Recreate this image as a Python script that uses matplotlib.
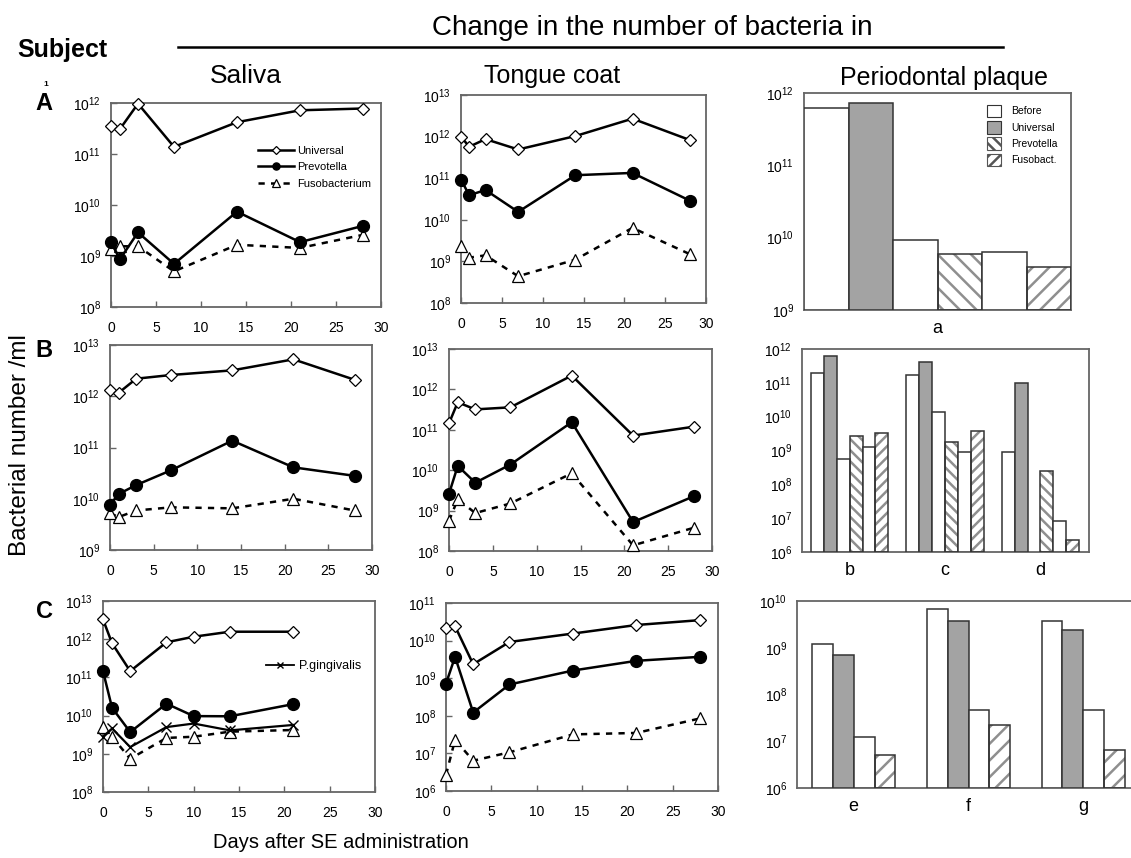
import matplotlib
matplotlib.use('Agg')
import matplotlib.pyplot as plt
import numpy as np
from matplotlib.patches import Patch
from matplotlib.lines import Line2D
from matplotlib.ticker import FixedLocator, NullLocator

plt.rcParams['font.family'] = ['Liberation Sans', 'DejaVu Sans']
plt.rcParams['mathtext.fontset'] = 'custom'
plt.rcParams['mathtext.rm'] = 'Liberation Sans'
plt.rcParams['mathtext.it'] = 'Liberation Sans'
plt.rcParams['hatch.linewidth'] = 1.8

# ---------------- data ----------------
days_A = [0, 1, 3, 7, 14, 21, 28]
A_sal_univ = [3.55e11, 3.1e11, 9.7e11, 1.38e11, 4.2e11, 7.2e11, 7.8e11]
A_sal_prev = [1.85e9, 8.7e8, 2.9e9, 7.0e8, 7.4e9, 1.87e9, 3.9e9]
A_sal_fuso = [1.35e9, 1.55e9, 1.55e9, 5.0e8, 1.66e9, 1.44e9, 2.6e9]
A_ton_univ = [1.0e12, 5.7e11, 8.7e11, 4.9e11, 1.03e12, 2.7e12, 8.3e11]
A_ton_prev = [9.3e10, 3.9e10, 5.2e10, 1.55e10, 1.18e11, 1.34e11, 2.9e10]
A_ton_fuso = [2.3e9, 1.23e9, 1.4e9, 4.4e8, 1.1e9, 6.4e9, 1.5e9]

days_B = [0, 1, 3, 7, 14, 21, 28]
B_sal_univ = [1.32e12, 1.17e12, 2.2e12, 2.6e12, 3.2e12, 5.25e12, 2.1e12]
B_sal_prev = [7.6e9, 1.24e10, 1.85e10, 3.6e10, 1.36e11, 4.1e10, 2.8e10]
B_sal_fuso = [5.2e9, 4.4e9, 5.9e9, 6.8e9, 6.5e9, 1.0e10, 5.9e9]
B_ton_univ = [1.45e11, 4.8e11, 3.2e11, 3.6e11, 2.2e12, 7.2e10, 1.2e11]
B_ton_prev = [2.6e9, 1.28e10, 4.9e9, 1.38e10, 1.54e11, 5.2e8, 2.3e9]
B_ton_fuso = [5.6e8, 1.9e9, 8.7e8, 1.5e9, 8.4e9, 1.38e8, 3.8e8]

days_Csal = [0, 1, 3, 7, 10, 14, 21]
C_sal_univ = [3.3e12, 7.8e11, 1.46e11, 8.3e11, 1.16e12, 1.57e12, 1.57e12]
C_sal_prev = [1.46e11, 1.6e10, 3.7e9, 2.05e10, 9.7e9, 9.6e9, 2.0e10]
C_sal_fuso = [4.9e9, 2.8e9, 7.4e8, 2.6e9, 2.8e9, 3.8e9, 4.2e9]
C_sal_pg = [2.8e9, 4.6e9, 1.5e9, 5.0e9, 6.2e9, 4.1e9, 5.7e9]
days_Cton = [0, 1, 3, 7, 14, 21, 28]
C_ton_univ = [2.1e10, 2.4e10, 2.35e9, 9.2e9, 1.54e10, 2.6e10, 3.5e10]
C_ton_prev = [7.2e8, 3.7e9, 1.22e8, 6.8e8, 1.6e9, 2.9e9, 3.7e9]
C_ton_fuso = [2.7e6, 2.3e7, 6.4e6, 1.07e7, 3.2e7, 3.5e7, 8.5e7]

x_ticks = [0, 5, 10, 15, 20, 25, 30]

# plaque bars
plaque_types_6 = ['before', 'univ', 'before', 'prev', 'before', 'fuso']
plaque_types_4 = ['before', 'univ', 'before', 'fuso']
a_vals = [6.3e11, 7.3e11, 9.2e9, 5.9e9, 6.4e9, 3.9e9]
b_vals = [1.9e11, 6.3e11, 5.7e8, 2.6e9, 1.3e9, 3.2e9]
c_vals = [1.7e11, 4.0e11, 1.4e10, 1.8e9, 8.8e8, 3.7e9]
d_vals = [8.8e8, 1.0e11, np.nan, 2.4e8, 8.5e6, 2.3e6]
e_vals = [1.2e9, 6.9e8, 1.24e7, 5.0e6]
f_vals = [6.6e9, 3.7e9, 4.6e7, 2.2e7]
g_vals = [3.7e9, 2.45e9, 4.6e7, 6.6e6]
legend_labels = ['Before', 'Universal', 'Prevotella', 'Fusobact.']

# ---------------- figure ----------------
W, H = 1131, 858
fig = plt.figure(figsize=(W / 100, H / 100), dpi=100)


def rect(x0, y0, x1, y1):
    return [x0 / W, 1 - y1 / H, (x1 - x0) / W, (y1 - y0) / H]


SPINE = '#666666'
HATCH_C = '#8f8f8f'


def style_axes(ax, ylo, yhi):
    ax.set_yscale('log')
    ax.set_ylim(10.0 ** ylo, 10.0 ** yhi)
    exps = list(range(ylo, yhi + 1))
    ax.yaxis.set_major_locator(FixedLocator([10.0 ** e for e in exps]))
    ax.yaxis.set_minor_locator(NullLocator())
    ax.set_yticklabels([r'$10^{%d}$' % e for e in exps])
    for s in ax.spines.values():
        s.set_color(SPINE)
        s.set_linewidth(1.3)
    ax.tick_params(axis='y', direction='in', length=4, width=1, color=SPINE,
                   labelsize=10, pad=7)
    ax.tick_params(axis='x', direction='in', length=4, width=1, color=SPINE,
                   labelsize=10, pad=10)


def line_panel(r, days, univ, prev, fuso, ylo, yhi, pg=None):
    ax = fig.add_axes(rect(*r))
    style_axes(ax, ylo, yhi)
    ax.set_xlim(0, 30)
    ax.set_xticks(x_ticks)
    ax.plot(days, fuso, color='black', lw=1.8, ls=(0, (2.5, 2.5)), marker='^',
            ms=8.5, mfc='white', mec='black', mew=0.9, clip_on=False, zorder=3,
            label='Fusobacterium')
    if pg is not None:
        ax.plot(days, pg, color='black', lw=1.6, marker='x', ms=7, mew=1.0,
                clip_on=False, zorder=4, label='P.gingivalis')
    ax.plot(days, prev, color='black', lw=1.8, marker='o', ms=8.5,
            mfc='black', mec='black', clip_on=False, zorder=5, label='Prevotella')
    ax.plot(days, univ, color='black', lw=1.8, marker='D', ms=6.5,
            mfc='white', mec='black', mew=0.9, clip_on=False, zorder=6,
            label='Universal')
    return ax


def bar_panel(r, groups, types, ylo, yhi, spacing, group_labels, hatch_n,
              xlim, legend=False):
    ax = fig.add_axes(rect(*r))
    style_axes(ax, ylo, yhi)
    ax.tick_params(axis='y', length=0)
    ax.tick_params(axis='x', length=0, labelsize=13, pad=7)
    bottom = 10.0 ** ylo
    n = len(types)
    centers = []
    for gi, vals in enumerate(groups):
        c = gi * spacing
        centers.append(c)
        for j, (v, t) in enumerate(zip(vals, types)):
            if np.isnan(v):
                continue
            x = c + (j - (n - 1) / 2)
            face = '#a3a3a3' if t == 'univ' else 'white'
            hatch = None
            if t == 'prev':
                hatch = '\\' * hatch_n
            elif t == 'fuso':
                hatch = '/' * hatch_n
            if hatch:
                ax.bar(x, v - bottom, bottom=bottom, width=1.0, color='white',
                       edgecolor=HATCH_C, hatch=hatch, linewidth=0, zorder=2)
                ax.bar(x, v - bottom, bottom=bottom, width=1.0, fill=False,
                       edgecolor='#333333', linewidth=1.1, zorder=3)
            else:
                ax.bar(x, v - bottom, bottom=bottom, width=1.0, color=face,
                       edgecolor='#333333', linewidth=1.1, zorder=3)
    ax.set_xlim(*xlim)
    ax.set_xticks(centers)
    ax.set_xticklabels(group_labels)
    if legend:
        handles = [Patch(facecolor='white', edgecolor='#333333', lw=0.8),
                   Patch(facecolor='#a3a3a3', edgecolor='#333333', lw=0.8),
                   Patch(facecolor='white', edgecolor='#555555', hatch='\\\\\\', lw=0.8),
                   Patch(facecolor='white', edgecolor='#555555', hatch='///', lw=0.8)]
        ax.legend(handles, legend_labels, loc='upper right', frameon=False,
                  fontsize=7.5, handlelength=1.3, handleheight=1.5,
                  labelspacing=0.35, bbox_to_anchor=(0.985, 0.99),
                  handletextpad=1.0)
    return ax


# Row A
axA1 = line_panel((111, 103, 381, 307), days_A, A_sal_univ, A_sal_prev,
                  A_sal_fuso, 8, 12)
h, l = axA1.get_legend_handles_labels()
order = [l.index('Universal'), l.index('Prevotella'), l.index('Fusobacterium')]
axA1.legend([h[i] for i in order], [l[i] for i in order], loc='upper right',
            frameon=False, fontsize=8, handlelength=3.2, labelspacing=0.6,
            bbox_to_anchor=(1.0, 0.84), handletextpad=0.3, markerscale=0.6)
line_panel((461, 95, 706, 303), days_A, A_ton_univ, A_ton_prev, A_ton_fuso,
           8, 13)
bar_panel((804, 93, 1071, 310), [a_vals], plaque_types_6, 9, 12, 0, ['a'],
          2, (-3, 3), legend=True)

# Row B
line_panel((110, 345, 372, 550), days_B, B_sal_univ, B_sal_prev, B_sal_fuso,
           9, 13)
line_panel((449, 349, 712, 551), days_B, B_ton_univ, B_ton_prev, B_ton_fuso,
           8, 13)
bar_panel((802, 349, 1089, 552), [b_vals, c_vals, d_vals], plaque_types_6,
          6, 12, 7.4, ['b', 'c', 'd'], 3, (-3.7, 18.57))

# Row C
axC1 = line_panel((103, 601, 375, 792), days_Csal, C_sal_univ, C_sal_prev,
                  C_sal_fuso, 8, 13, pg=C_sal_pg)
axC1.legend([Line2D([], [], color='black', lw=1.3, marker='x', ms=5)],
            ['P.gingivalis'], loc='upper right', frameon=False, fontsize=9,
            handlelength=2.2, bbox_to_anchor=(0.99, 0.75), handletextpad=0.4)
line_panel((446, 603, 718, 791), days_Cton, C_ton_univ, C_ton_prev, C_ton_fuso,
           6, 11)
bar_panel((797, 601, 1140, 788), [e_vals, f_vals, g_vals], plaque_types_4,
          6, 10, 5.5, ['e', 'f', 'g'], 2, (-2.72, 13.72))

# ---------------- texts ----------------
def ftext(x, y, s, **kw):
    fig.text(x / W, 1 - y / H, s, **kw)


ftext(17, 50, 'Subject', fontsize=18, fontweight='bold', va='center', ha='left')
ftext(652, 28, 'Change in the number of bacteria in', fontsize=20,
      va='center', ha='center')
fig.add_artist(Line2D([178 / W, 1003 / W], [1 - 47 / H, 1 - 47 / H],
                      color='black', lw=1.8))
ftext(246, 76, 'Saliva', fontsize=19, va='center', ha='center')
ftext(552, 76, 'Tongue coat', fontsize=18, va='center', ha='center')
ftext(944, 78, 'Periodontal plaque', fontsize=18, va='center', ha='center')
ftext(44, 103, 'A', fontsize=17, fontweight='bold', va='center', ha='center')
ftext(46, 84, '1', fontsize=6, fontweight='bold', va='center', ha='center')
ftext(44, 350, 'B', fontsize=17, fontweight='bold', va='center', ha='center')
ftext(44, 612, 'C', fontsize=17, fontweight='bold', va='center', ha='center')
ftext(20, 445, 'Bacterial number /ml', fontsize=17.5, rotation=90,
      va='center', ha='center')
ftext(341, 843, 'Days after SE administration', fontsize=14.5,
      va='center', ha='center')

fig.savefig('out.png', dpi=100)
